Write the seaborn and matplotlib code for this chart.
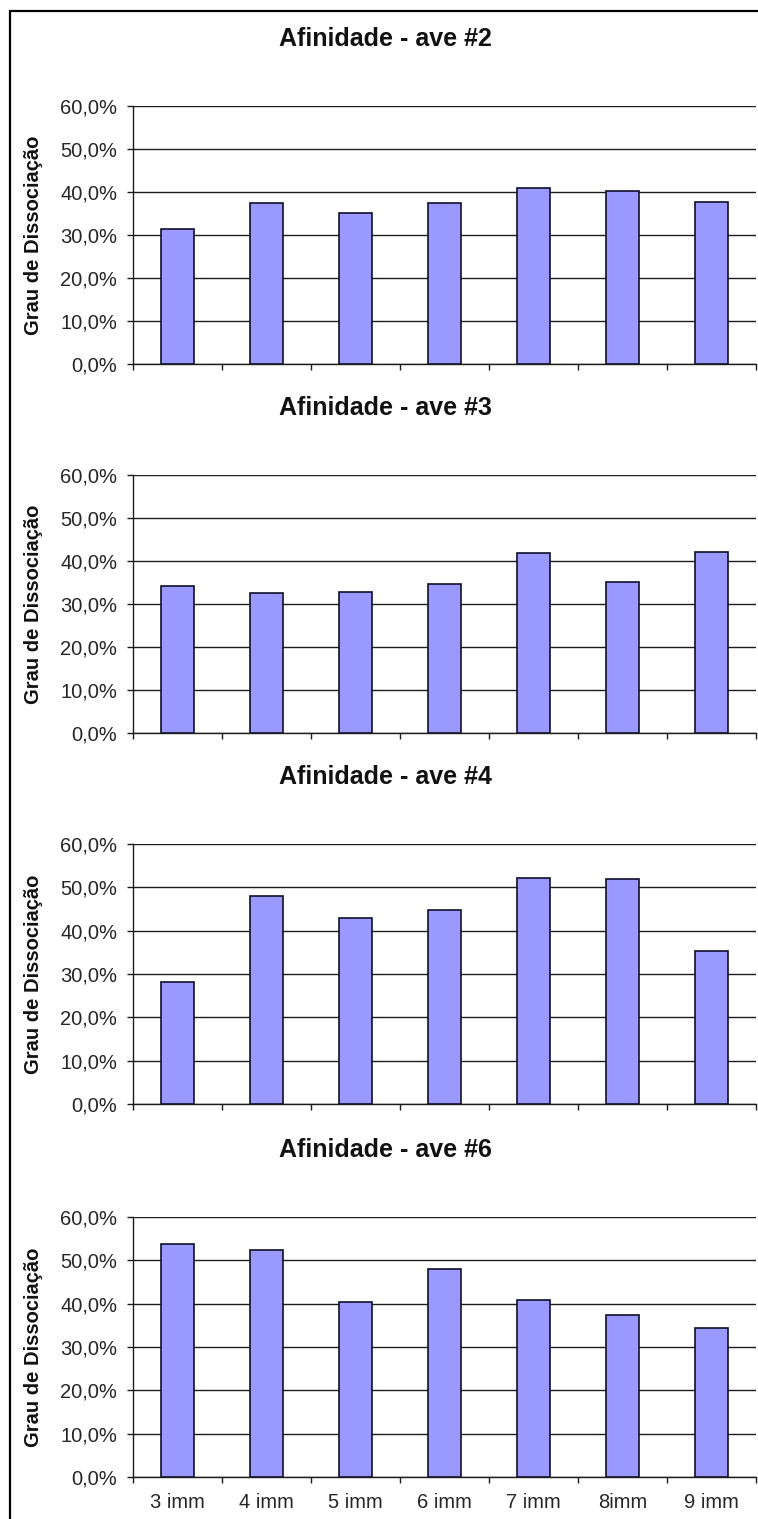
import numpy as np
import pandas as pd
import matplotlib
matplotlib.use("Agg")
import matplotlib.pyplot as plt
from matplotlib.ticker import FuncFormatter
from matplotlib.lines import Line2D
import seaborn as sns

# Dissociation degree (%) per immunisation, one list per bird
categorias = ["3 imm", "4 imm", "5 imm", "6 imm", "7 imm", "8imm", "9 imm"]
ave_2 = [31.3, 37.4, 35.0, 37.4, 41.0, 40.2, 37.7]
ave_3 = [34.3, 32.5, 32.9, 34.7, 41.8, 35.1, 42.2]
ave_4 = [28.1, 48.1, 43.0, 44.8, 52.1, 51.9, 35.2]
ave_6 = [53.8, 52.3, 40.5, 47.9, 40.8, 37.5, 34.5]
titulos = ["Afinidade - ave #2", "Afinidade - ave #3",
           "Afinidade - ave #4", "Afinidade - ave #6"]
y_ticks = [0, 10, 20, 30, 40, 50, 60]
y_label = "Grau de Dissociação"

sns.set_style("white")
plt.rcParams["font.family"] = ["Liberation Sans", "DejaVu Sans"]

W, H = 758, 1519
fig = plt.figure(figsize=(W / 100, H / 100), dpi=100)
fig.patch.set_facecolor("white")

# pixel rows of the 60% and 0% lines of each panel
topos = [106, 475, 844, 1217]
bases = [364, 733, 1104, 1477]
x0, x1 = 133, 756

series = [ave_2, ave_3, ave_4, ave_6]
fmt = FuncFormatter(lambda v, _: f"{v:.1f}%".replace(".", ","))

for i, (vals, titulo) in enumerate(zip(series, titulos)):
    ax = fig.add_axes([x0 / W, 1 - bases[i] / H, (x1 - x0) / W,
                       (bases[i] - topos[i]) / H])
    df = pd.DataFrame({"imm": categorias, "grau": vals})
    sns.barplot(data=df, x="imm", y="grau", order=categorias, color="#9999FF",
                saturation=1, width=0.37, edgecolor="#10102a", linewidth=1.2,
                ax=ax, zorder=3)
    ax.set_ylim(0, 60)
    ax.set_xlim(-0.5, len(categorias) - 0.5)
    ax.set_yticks(y_ticks)
    ax.yaxis.set_major_formatter(fmt)
    ax.yaxis.grid(True, color="#1c1c1c", linewidth=1.0, zorder=0)
    ax.set_axisbelow(True)

    # ticks at category boundaries, labels centred under the bars
    ax.set_xticks(np.arange(-0.5, len(categorias), 1.0))
    ax.set_xticklabels([])
    ax.set_xticks(np.arange(len(categorias)), minor=True)
    if i == len(series) - 1:
        ax.set_xticklabels(categorias, minor=True)
    else:
        ax.set_xticklabels([""] * len(categorias), minor=True)
    ax.tick_params(axis="x", which="minor", length=0, pad=11.5,
                   labelsize=14.5, labelcolor="#262626")
    ax.tick_params(axis="x", which="major", direction="out", length=4.5,
                   width=1.0, color="#1c1c1c", bottom=True)
    ax.tick_params(axis="y", direction="out", length=4, width=1.0,
                   color="#1c1c1c", left=True, pad=7.5, labelsize=14.5,
                   labelcolor="#262626")

    for side in ("top", "right"):
        ax.spines[side].set_visible(False)
    for side in ("left", "bottom"):
        ax.spines[side].set_visible(True)
        ax.spines[side].set_color("#1c1c1c")
        ax.spines[side].set_linewidth(1.0)

    ax.set_xlabel("")
    ax.set_ylabel(y_label, fontsize=14.5, fontweight="bold", color="#111111")
    ax.yaxis.set_label_coords((43 - x0) / (x1 - x0), 0.5)
    ax.set_title(titulo, fontsize=18, fontweight="bold", color="#111111",
                 x=(385 - x0) / (x1 - x0), pad=43)

# chart-area frame (left and top edges)
fig.add_artist(Line2D([10 / W, 10 / W], [0, 1 - 11 / H], color="black",
                      linewidth=1.6, transform=fig.transFigure))
fig.add_artist(Line2D([10 / W, 1], [1 - 11 / H, 1 - 11 / H], color="black",
                      linewidth=1.6, transform=fig.transFigure))

fig.savefig("out.png", dpi=100, facecolor="white")
